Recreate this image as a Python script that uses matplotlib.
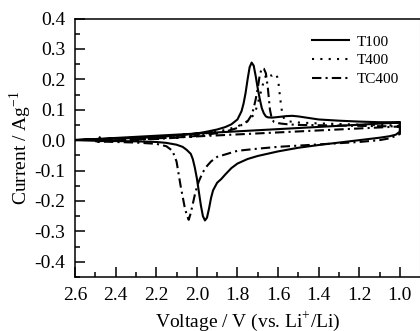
import numpy as np
import matplotlib
matplotlib.use('Agg')
from matplotlib import pyplot as plt
from matplotlib.ticker import MultipleLocator

plt.rcParams['font.family'] = ['Liberation Serif', 'DejaVu Serif']
plt.rcParams['mathtext.fontset'] = 'custom'
plt.rcParams['mathtext.rm'] = 'Liberation Serif'

# T100 (solid) - anodic branch 1.0 -> 2.6 V
t100_up_v = [1.00, 1.05, 1.10, 1.20, 1.30, 1.40, 1.45, 1.50, 1.53, 1.56, 1.60, 1.63, 1.65, 1.66, 1.67,
             1.68, 1.69, 1.70, 1.71, 1.72, 1.73, 1.74, 1.75, 1.76, 1.77, 1.78, 1.80, 1.83, 1.86, 1.90,
             1.95, 2.00, 2.10, 2.20, 2.30, 2.40, 2.50, 2.60]
t100_up_i = [0.058, 0.059, 0.059, 0.061, 0.064, 0.068, 0.073, 0.078, 0.080, 0.079, 0.076, 0.074, 0.075, 0.078, 0.088,
             0.105, 0.135, 0.170, 0.210, 0.245, 0.255, 0.240, 0.200, 0.155, 0.120, 0.095, 0.068, 0.052, 0.043, 0.035,
             0.028, 0.022, 0.015, 0.010, 0.007, 0.005, 0.003, 0.001]
# T100 - cathodic branch 2.6 -> 1.0 V
t100_dn_v = [2.60, 2.50, 2.40, 2.30, 2.20, 2.15, 2.10, 2.07, 2.05, 2.03, 2.02, 2.01, 2.00, 1.99, 1.98,
             1.97, 1.96, 1.95, 1.94, 1.93, 1.92, 1.90, 1.88, 1.86, 1.83, 1.80, 1.75, 1.70, 1.60, 1.50,
             1.40, 1.30, 1.25, 1.20, 1.10, 1.05, 1.02, 1.00, 1.00]
t100_dn_i = [0.000, -0.002, -0.003, -0.004, -0.006, -0.009, -0.015, -0.022, -0.032, -0.045, -0.062, -0.090, -0.125, -0.170, -0.215,
             -0.250, -0.264, -0.255, -0.225, -0.190, -0.165, -0.140, -0.128, -0.113, -0.092, -0.077, -0.062, -0.052, -0.037, -0.025,
             -0.016, -0.008, -0.004, 0.000, 0.008, 0.013, 0.018, 0.028, 0.058]

# T400 (dotted) - anodic branch
t400_up_v = [1.00, 1.10, 1.20, 1.30, 1.40, 1.50, 1.55, 1.57, 1.58, 1.59, 1.60, 1.61, 1.62, 1.63, 1.64,
             1.65, 1.66, 1.67, 1.68, 1.69, 1.70, 1.71, 1.72, 1.74, 1.76, 1.80, 1.85, 1.90, 2.00, 2.10,
             2.20, 2.30, 2.40, 2.47, 2.49]
t400_up_i = [0.048, 0.050, 0.051, 0.053, 0.055, 0.058, 0.062, 0.070, 0.090, 0.140, 0.200, 0.218, 0.216, 0.212, 0.214,
             0.220, 0.212, 0.195, 0.170, 0.145, 0.120, 0.098, 0.083, 0.068, 0.058, 0.045, 0.035, 0.028, 0.018, 0.010,
             0.005, 0.002, 0.000, 0.003, 0.018]

# TC400 (dash-dot) - anodic branch
tc400_up_v = [1.00, 1.10, 1.20, 1.30, 1.40, 1.50, 1.55, 1.58, 1.60, 1.62, 1.63, 1.64, 1.65, 1.66, 1.67,
              1.68, 1.69, 1.70, 1.71, 1.72, 1.73, 1.75, 1.78, 1.80, 1.85, 1.90, 2.00, 2.10, 2.20, 2.30,
              2.40, 2.50]
tc400_up_i = [0.045, 0.046, 0.047, 0.048, 0.049, 0.050, 0.052, 0.054, 0.056, 0.060, 0.068, 0.100, 0.170, 0.220, 0.235,
              0.236, 0.215, 0.170, 0.135, 0.105, 0.083, 0.062, 0.050, 0.040, 0.030, 0.023, 0.014, 0.008, 0.004, 0.001,
              -0.002, -0.004]
# TC400 - cathodic branch
tc400_dn_v = [2.50, 2.40, 2.30, 2.20, 2.15, 2.12, 2.10, 2.09, 2.08, 2.07, 2.06, 2.05, 2.04, 2.03, 2.02,
              2.01, 2.00, 1.99, 1.97, 1.95, 1.93, 1.90, 1.85, 1.80, 1.70, 1.60, 1.50, 1.40, 1.30, 1.20,
              1.10, 1.05, 1.00, 1.00]
tc400_dn_i = [-0.004, -0.006, -0.008, -0.012, -0.020, -0.035, -0.070, -0.110, -0.150, -0.185, -0.220, -0.245, -0.262, -0.240, -0.210,
              -0.180, -0.155, -0.135, -0.105, -0.085, -0.070, -0.055, -0.045, -0.035, -0.028, -0.022, -0.018, -0.014, -0.010, -0.006,
              0.000, 0.006, 0.020, 0.045]

xticks = [2.6, 2.4, 2.2, 2.0, 1.8, 1.6, 1.4, 1.2, 1.0]
yticks = [0.4, 0.3, 0.2, 0.1, 0.0, -0.1, -0.2, -0.3, -0.4]

fig = plt.figure(figsize=(4.2, 3.31), dpi=100)
ax = fig.add_axes([75/420, 54/331, 345/420, 258.5/331])

lw = 1.5
ax.plot(t100_dn_v[::-1] + t100_up_v, t100_dn_i[::-1] + t100_up_i, color='black', lw=lw, label='T100')
ax.plot(t400_up_v, t400_up_i, color='black', lw=lw, dashes=(1, 3), label='T400')
ax.plot(tc400_dn_v[::-1] + tc400_up_v, tc400_dn_i[::-1] + tc400_up_i, color='black', lw=lw,
        dashes=(4.5, 2, 1, 2), label='TC400')

ax.set_xlim(2.6, 0.901)
ax.set_ylim(-0.45, 0.4)
ax.set_xticks(xticks)
ax.set_xticklabels(['%.1f' % t for t in xticks])
ax.set_yticks(yticks)
ax.set_yticklabels(['%.1f' % t for t in yticks])
ax.xaxis.set_minor_locator(MultipleLocator(0.1))
ax.yaxis.set_minor_locator(MultipleLocator(0.05))
ax.tick_params(which='both', direction='in', top=False, right=False, labelsize=14, width=1.1)
ax.tick_params(axis='x', which='major', pad=7)
ax.tick_params(axis='y', which='major', pad=7)
ax.tick_params(which='major', length=7)
ax.tick_params(which='minor', length=3.6)
for s in ['left', 'bottom', 'top']:
    ax.spines[s].set_linewidth(1.1)
ax.spines['right'].set_color('#cccccc')

ax.set_xlabel('Voltage / V (vs. Li$^{+}$/Li)', fontsize=14, labelpad=4)
ax.set_ylabel('Current / Ag$^{-1}$', fontsize=14, labelpad=0)

leg = ax.legend(loc='upper left', bbox_to_anchor=(312/420, 1 - 35/331), bbox_transform=fig.transFigure,
                frameon=False, fontsize=11, handlelength=2.4, handletextpad=0.5, labelspacing=0.33,
                borderpad=0, borderaxespad=0)

fig.savefig('out.png', dpi=100)
